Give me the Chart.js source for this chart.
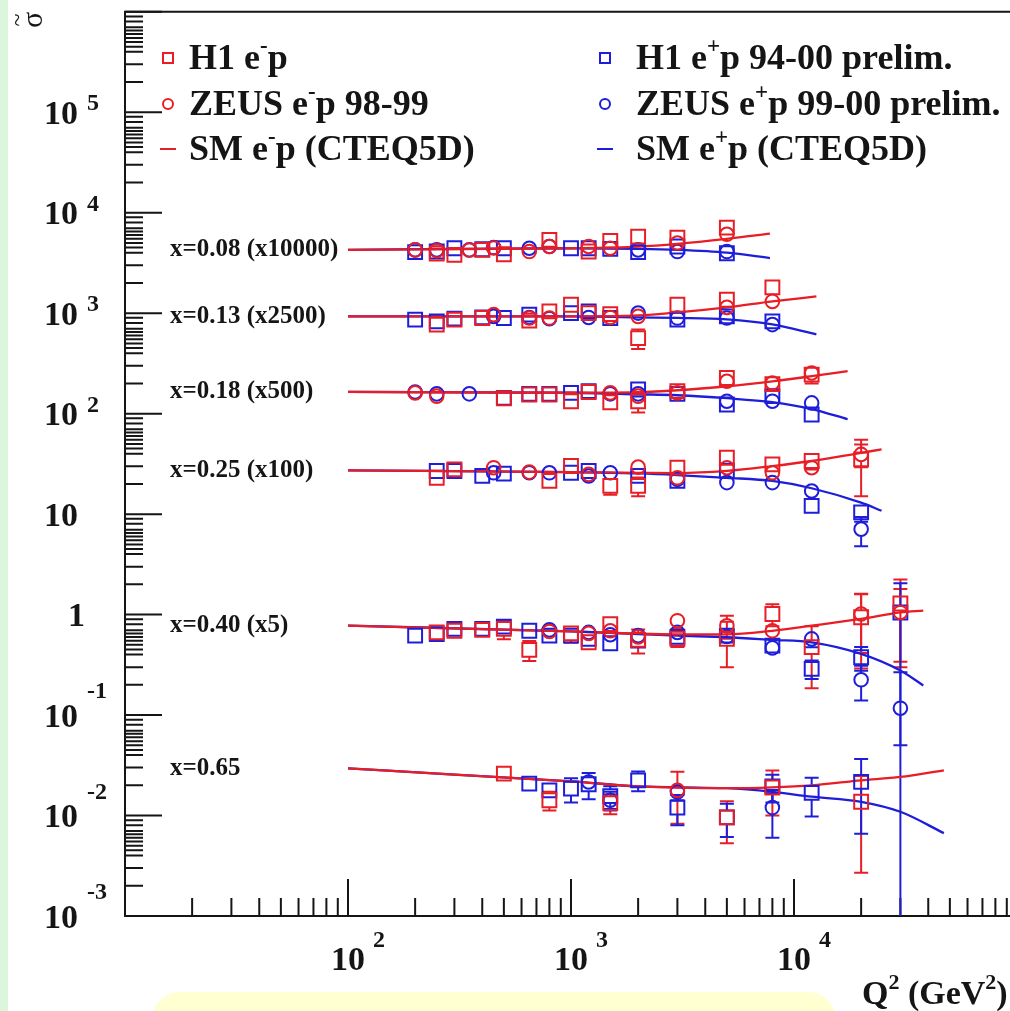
<!DOCTYPE html>
<html>
<head>
<meta charset="utf-8">
<script src="https://cdn.jsdelivr.net/npm/chart.js@4.4.1/dist/chart.umd.min.js"></script>
<style>
  html, body { margin: 0; padding: 0; background: #fff; overflow: hidden; }
  #wrap { position: relative; width: 1010px; height: 1011px; overflow: hidden; background: #fff; }
  #strip { position: absolute; left: 0; top: 0; width: 8px; height: 1011px; background: #dcf6de; }
  #note { position: absolute; left: 152px; top: 992px; width: 684px; height: 60px; border-radius: 28px; background: #ffffd2; }
  canvas { position: absolute; left: 0; top: 0; }
</style>
</head>
<body>
<div id="wrap">
  <div id="strip"></div>
  <div id="note"></div>
  <canvas id="chart" width="1040" height="1011"></canvas>
</div>
<script>
// x bins, the factor each bin is multiplied by, and the bin captions
const binScale = [10000, 2500, 500, 100, 5, 1];
const binLabels = ["x=0.08 (x10000)", "x=0.13 (x2500)", "x=0.18 (x500)", "x=0.25 (x100)", "x=0.40 (x5)", "x=0.65"];

// SM expectation (CTEQ5D), reduced cross section per bin
const smQ2 = [
  [100, 1000, 2000, 3000, 5000, 7800],
  [100, 1000, 2000, 3000, 5000, 8000, 12600],
  [100, 1000, 2000, 3000, 5000, 8000, 12000, 17400],
  [100, 1000, 2000, 3000, 5000, 8000, 12000, 20000, 24700],
  [100, 1000, 2000, 3000, 5000, 8000, 12000, 20000, 30000, 38000],
  [100, 300, 1000, 2000, 5000, 8000, 12000, 20000, 30000, 47000],
];
const smEm = [
  [0.427, 0.443, 0.46, 0.49, 0.55, 0.62],
  [0.372, 0.372, 0.38, 0.407, 0.457, 0.524, 0.587],
  [0.329, 0.323, 0.327, 0.342, 0.375, 0.42, 0.472, 0.529],
  [0.273, 0.262, 0.258, 0.256, 0.269, 0.301, 0.338, 0.408, 0.441],
  [0.155, 0.136, 0.129, 0.127, 0.127, 0.138, 0.155, 0.181, 0.21, 0.219],
  [0.0295, 0.0255, 0.0219, 0.0195, 0.0187, 0.0191, 0.02, 0.0224, 0.0242, 0.0282],
];
const smEp = [
  [0.427, 0.443, 0.437, 0.427, 0.4, 0.354],
  [0.372, 0.372, 0.363, 0.359, 0.347, 0.309, 0.246],
  [0.329, 0.323, 0.312, 0.305, 0.285, 0.26, 0.222, 0.176],
  [0.273, 0.262, 0.254, 0.245, 0.23, 0.214, 0.181, 0.13, 0.108],
  [0.155, 0.136, 0.128, 0.1235, 0.119, 0.112, 0.106, 0.0813, 0.0555, 0.0394],
  [0.0295, 0.0255, 0.0219, 0.0195, 0.0187, 0.0172, 0.0154, 0.0137, 0.0109, 0.00668],
];

// H1 e-p
const h1EmQ2 = [
  [250, 300, 400, 500, 800, 1200, 1500, 2000, 3000, 5000],
  [250, 300, 400, 650, 800, 1000, 1200, 1500, 2000, 3000, 5000, 8000],
  [500, 650, 800, 1000, 1200, 1500, 2000, 3000, 5000, 8000, 12000],
  [250, 300, 800, 1000, 1500, 2000, 3000, 5000, 8000, 12000, 20000],
  [250, 300, 400, 500, 650, 1000, 1200, 1500, 2000, 3000, 5000, 8000, 12000, 20000, 30000],
  [500, 800, 1500, 5000, 8000, 20000],
];
const h1EmSig = [
  [0.393, 0.381, 0.427, 0.386, 0.537, 0.411, 0.525, 0.579, 0.566, 0.711],
  [0.308, 0.345, 0.358, 0.337, 0.417, 0.486, 0.401, 0.392, 0.226, 0.486, 0.545, 0.722],
  [0.285, 0.31, 0.31, 0.266, 0.329, 0.26, 0.266, 0.335, 0.453, 0.393, 0.49],
  [0.23, 0.279, 0.214, 0.301, 0.191, 0.191, 0.29, 0.364, 0.313, 0.338, 0.351],
  [0.133, 0.138, 0.141, 0.144, 0.0891, 0.13, 0.106, 0.161, 0.112, 0.115, 0.115, 0.203, 0.095, 0.188, 0.258],
  [0.0261, 0.0142, 0.0133, 0.0096, 0.019, 0.0137],
];
const h1EmErr = [
  [0.02, 0.02, 0.02, 0.02, 0.03, 0.02, 0.03, 0.04, 0.04, 0.06],
  [0.015, 0.015, 0.015, 0.02, 0.02, 0.03, 0.02, 0.03, 0.05, 0.04, 0.05, 0.08],
  [0.015, 0.015, 0.02, 0.03, 0.02, 0.04, 0.06, 0.03, 0.04, 0.05, 0.09],
  [0.012, 0.015, 0.02, 0.02, 0.035, 0.04, 0.03, 0.04, 0.04, 0.06, 0.2],
  [0.01, 0.01, 0.01, 0.03, 0.02, 0.025, 0.015, 0.03, 0.03, 0.02, 0.055, 0.05, 0.058, 0.13, 0.19],
  [0.003, 0.003, 0.003, 0.0043, 0.009, 0.011],
];

// ZEUS e-p 98-99
const zeusEmQ2 = [
  [200, 250, 350, 450, 650, 800, 1200, 1500, 3000, 5000],
  [450, 650, 800, 1500, 2000, 5000, 8000],
  [200, 250, 1500, 2000, 3000, 5000, 8000, 12000],
  [450, 650, 1200, 2000, 3000, 5000, 8000, 12000, 20000],
  [800, 1200, 1500, 2000, 3000, 5000, 8000, 20000, 30000],
  [3000],
];
const zeusEmSig = [
  [0.427, 0.42, 0.425, 0.446, 0.411, 0.461, 0.461, 0.443, 0.5, 0.61],
  [0.387, 0.358, 0.358, 0.363, 0.372, 0.457, 0.524],
  [0.322, 0.299, 0.322, 0.299, 0.322, 0.42, 0.404, 0.508],
  [0.29, 0.262, 0.249, 0.294, 0.23, 0.29, 0.258, 0.29, 0.393],
  [0.136, 0.13, 0.138, 0.12, 0.174, 0.155, 0.138, 0.203, 0.21],
  [0.0178],
];
const zeusEmErr = [
  [0.02, 0.02, 0.02, 0.02, 0.02, 0.02, 0.03, 0.03, 0.03, 0.05],
  [0.015, 0.015, 0.015, 0.02, 0.02, 0.03, 0.04],
  [0.012, 0.012, 0.02, 0.02, 0.02, 0.03, 0.04, 0.06],
  [0.012, 0.012, 0.015, 0.02, 0.02, 0.03, 0.03, 0.04, 0.1],
  [0.01, 0.01, 0.01, 0.01, 0.03, 0.04, 0.02, 0.12, 0.15],
  [0.0095],
];

// H1 e+p 94-00 prelim.
const h1EpQ2 = [
  [200, 250, 300, 400, 500, 1000, 1200, 1500, 2000, 3000, 5000],
  [200, 250, 300, 400, 500, 650, 1000, 1200, 1500, 3000, 5000, 8000],
  [500, 650, 800, 1000, 1200, 2000, 3000, 5000, 8000, 12000],
  [250, 300, 400, 500, 1000, 1200, 2000, 3000, 5000, 12000, 20000],
  [200, 250, 300, 400, 500, 650, 800, 1000, 1200, 1500, 2000, 3000, 5000, 8000, 12000, 20000, 30000],
  [650, 800, 1000, 1200, 1500, 2000, 3000, 5000, 8000, 12000, 20000],
];
const h1EpSig = [
  [0.405, 0.411, 0.443, 0.433, 0.443, 0.443, 0.443, 0.437, 0.405, 0.461, 0.395],
  [0.345, 0.332, 0.353, 0.363, 0.358, 0.387, 0.401, 0.417, 0.358, 0.345, 0.372, 0.332],
  [0.287, 0.315, 0.315, 0.322, 0.335, 0.348, 0.315, 0.247, 0.299, 0.196],
  [0.269, 0.269, 0.24, 0.253, 0.258, 0.269, 0.24, 0.214, 0.27, 0.121, 0.104],
  [0.1235, 0.128, 0.144, 0.144, 0.152, 0.138, 0.1235, 0.1235, 0.1146, 0.1036, 0.11, 0.12, 0.1235, 0.0983, 0.0577, 0.0752, 0.21],
  [0.0208, 0.0178, 0.0185, 0.0205, 0.0156, 0.0224, 0.012, 0.0096, 0.0195, 0.0168, 0.0216],
];
const h1EpErr = [
  [0.015, 0.015, 0.015, 0.015, 0.015, 0.02, 0.02, 0.02, 0.02, 0.03, 0.04],
  [0.012, 0.012, 0.012, 0.012, 0.012, 0.015, 0.015, 0.015, 0.015, 0.02, 0.03, 0.04],
  [0.01, 0.01, 0.012, 0.012, 0.012, 0.015, 0.02, 0.02, 0.03, 0.03],
  [0.01, 0.01, 0.01, 0.01, 0.012, 0.012, 0.015, 0.015, 0.02, 0.02, 0.02],
  [0.005, 0.005, 0.005, 0.005, 0.006, 0.006, 0.006, 0.006, 0.007, 0.007, 0.008, 0.01, 0.012, 0.012, 0.012, 0.02, 0.2],
  [0.002, 0.002, 0.005, 0.006, 0.004, 0.005, 0.004, 0.0035, 0.006, 0.007, 0.015],
];

// ZEUS e+p 99-00 prelim.
const zeusEpQ2 = [
  [200, 250, 350, 450, 650, 800, 2000, 3000, 5000],
  [450, 650, 800, 1200, 2000, 3000, 5000, 8000],
  [200, 250, 350, 1500, 2000, 5000, 8000, 12000],
  [450, 650, 800, 1200, 1500, 3000, 5000, 8000, 12000, 20000],
  [800, 1200, 1500, 2000, 3000, 5000, 8000, 12000, 20000, 30000],
  [1200, 1500, 3000, 8000],
];
const zeusEpSig = [
  [0.427, 0.427, 0.427, 0.45, 0.443, 0.461, 0.427, 0.411, 0.411],
  [0.372, 0.363, 0.353, 0.363, 0.401, 0.358, 0.358, 0.308],
  [0.329, 0.315, 0.315, 0.315, 0.315, 0.266, 0.266, 0.256],
  [0.258, 0.258, 0.258, 0.24, 0.258, 0.222, 0.206, 0.206, 0.17, 0.0709],
  [0.141, 0.133, 0.126, 0.1235, 0.133, 0.121, 0.0932, 0.1146, 0.0449, 0.0234],
  [0.0216, 0.0142, 0.0172, 0.012],
];
const zeusEpErr = [
  [0.012, 0.012, 0.012, 0.012, 0.015, 0.015, 0.02, 0.02, 0.03],
  [0.01, 0.01, 0.01, 0.012, 0.015, 0.015, 0.02, 0.03],
  [0.01, 0.01, 0.01, 0.012, 0.012, 0.015, 0.02, 0.03],
  [0.008, 0.008, 0.008, 0.01, 0.01, 0.012, 0.015, 0.015, 0.02, 0.023],
  [0.006, 0.006, 0.006, 0.006, 0.008, 0.01, 0.012, 0.02, 0.017, 0.03],
  [0.003, 0.003, 0.003, 0.006],
];

const RED = "rgb(232, 30, 38)";
const BLUE = "rgb(30, 30, 218)";
const INK = "#151515";
const SERIF = '"Liberation Serif", "DejaVu Serif", serif';
const SQUARE_R = 9.8;
const CIRCLE_R = 6.8;

function points(q2, sig, err) {
  const out = [];
  q2.forEach((row, i) => {
    row.forEach((q, j) => {
      out.push({ x: q, y: sig[i][j] * binScale[i], e: err[i][j] * binScale[i] });
    });
  });
  return out;
}

function markerSet(label, data, color, style) {
  const square = style === "rect";
  return {
    label: label,
    data: data,
    pointStyle: style,
    pointRadius: square ? SQUARE_R : CIRCLE_R,
    pointBorderWidth: 2,
    borderColor: color,
    backgroundColor: "rgba(0,0,0,0)",
    showLine: false,
    markerHalf: square ? SQUARE_R * Math.SQRT1_2 : CIRCLE_R,
    errorBars: true,
  };
}

function curveSet(q2, sig, scale, color) {
  return {
    data: q2.map((q, i) => ({ x: q, y: sig[i] * scale })),
    showLine: true,
    borderColor: color,
    borderWidth: 2.3,
    pointRadius: 0,
    cubicInterpolationMode: "monotone",
    fill: false,
  };
}

const datasets = [
  markerSet("H1 e-p", points(h1EmQ2, h1EmSig, h1EmErr), RED, "rect"),
  markerSet("ZEUS e-p 98-99", points(zeusEmQ2, zeusEmSig, zeusEmErr), RED, "circle"),
  markerSet("H1 e+p 94-00 prelim.", points(h1EpQ2, h1EpSig, h1EpErr), BLUE, "rect"),
  markerSet("ZEUS e+p 99-00 prelim.", points(zeusEpQ2, zeusEpSig, zeusEpErr), BLUE, "circle"),
];
smQ2.forEach((q2, i) => {
  datasets.push(curveSet(q2, smEm[i], binScale[i], RED));
  datasets.push(curveSet(q2, smEp[i], binScale[i], BLUE));
});

// text with raised pieces, e.g. e^- p
function drawRich(ctx, x, y, parts, size) {
  parts.forEach(([text, sup]) => {
    const s = sup ? Math.round(size * 0.64) : size;
    ctx.font = `bold ${s}px ${SERIF}`;
    ctx.fillText(text, x, sup ? y - size * 0.45 : y);
    x += ctx.measureText(text).width;
  });
  return x;
}

function drawMarker(ctx, style, x, y, color, half) {
  ctx.strokeStyle = color;
  ctx.lineWidth = 2;
  ctx.beginPath();
  if (style === "rect") ctx.rect(x - half, y - half, half * 2, half * 2);
  else if (style === "circle") ctx.arc(x, y, half, 0, Math.PI * 2);
  else { ctx.moveTo(x - 8, y); ctx.lineTo(x + 8, y); }
  ctx.stroke();
}

const axesPlugin = {
  id: "rootAxes",
  beforeDatasetsDraw(chart) {
    const { ctx, chartArea: a, scales } = chart;
    const xs = scales.x, ys = scales.y;
    ctx.save();
    ctx.strokeStyle = INK;
    ctx.lineWidth = 2;
    ctx.beginPath();
    ctx.rect(a.left, a.top, a.right - a.left, a.bottom - a.top);
    ctx.stroke();

    // ticks point inwards, long ones on each decade
    const yMinor = [2, 3, 4, 4.5, 5, 5.5, 6, 6.5, 7, 8, 9];
    ctx.beginPath();
    for (let e = -3; e <= 6; e++) {
      const b = Math.pow(10, e);
      const py = ys.getPixelForValue(b);
      ctx.moveTo(a.left, py); ctx.lineTo(a.left + 37, py);
      if (e < 6) {
        yMinor.forEach(m => {
          const p = ys.getPixelForValue(b * m);
          ctx.moveTo(a.left, p); ctx.lineTo(a.left + 18, p);
        });
      }
    }
    for (let e = 1; e <= 5; e++) {
      const b = Math.pow(10, e);
      const px = xs.getPixelForValue(b);
      ctx.moveTo(px, a.bottom); ctx.lineTo(px, a.bottom - 37);
      if (e < 5) {
        for (let m = 2; m <= 9; m++) {
          const p = xs.getPixelForValue(b * m);
          ctx.moveTo(p, a.bottom); ctx.lineTo(p, a.bottom - 18);
        }
      }
    }
    ctx.stroke();

    // tick labels
    ctx.fillStyle = INK;
    ctx.textBaseline = "alphabetic";
    for (let e = -3; e <= 5; e++) {
      const py = ys.getPixelForValue(Math.pow(10, e));
      ctx.font = `bold 34px ${SERIF}`;
      if (e === 0) {
        ctx.textAlign = "right";
        ctx.fillText("1", a.left - 40, py + 11.5);
        continue;
      }
      ctx.textAlign = "right";
      ctx.fillText("10", a.left - 47, py + 11.5);
      if (e !== 1) {
        ctx.textAlign = "left";
        ctx.font = `bold 24px ${SERIF}`;
        ctx.fillText(String(e), a.left - 38, e < 0 ? py - 17 : py - 2);
      }
    }
    for (let e = 2; e <= 4; e++) {
      const px = xs.getPixelForValue(Math.pow(10, e));
      ctx.textAlign = "center";
      ctx.font = `bold 34px ${SERIF}`;
      ctx.fillText("10", px, a.bottom + 54);
      ctx.textAlign = "left";
      ctx.font = `bold 24px ${SERIF}`;
      ctx.fillText(String(e), px + 25, a.bottom + 31);
    }

    // axis titles
    ctx.textAlign = "left";
    drawRich(ctx, 862, 1004, [["Q"], ["2", 1], [" (GeV"], ["2", 1], [")"]], 34);
    ctx.save();
    ctx.translate(34, 20);
    ctx.rotate(-Math.PI / 2);
    ctx.textAlign = "center";
    ctx.textBaseline = "middle";
    ctx.font = `30px ${SERIF}`;
    ctx.fillText("\u03c3", 0, 0);
    ctx.font = `24px ${SERIF}`;
    ctx.fillText("~", 0, -15);
    ctx.restore();

    // bin captions at the level where each SM curve starts
    ctx.font = `bold 25px ${SERIF}`;
    ctx.textAlign = "left";
    ctx.textBaseline = "middle";
    binLabels.forEach((t, i) => {
      ctx.fillText(t, a.left + 45, ys.getPixelForValue(smEm[i][0] * binScale[i]));
    });

    // error bars, drawn from the marker edge outwards
    ctx.beginPath();
    ctx.rect(a.left, a.top, a.right - a.left, a.bottom - a.top);
    ctx.clip();
    chart.data.datasets.forEach(ds => {
      if (!ds.errorBars) return;
      ctx.strokeStyle = ds.borderColor;
      ctx.lineWidth = 2;
      ctx.beginPath();
      ds.data.forEach(p => {
        const px = xs.getPixelForValue(p.x);
        const py = ys.getPixelForValue(p.y);
        const top = ys.getPixelForValue(p.y + p.e);
        const low = p.y - p.e > 0 ? ys.getPixelForValue(p.y - p.e) : a.bottom + 5;
        const h = ds.markerHalf;
        if (top < py - h - 1) {
          ctx.moveTo(px, py - h); ctx.lineTo(px, top);
          ctx.moveTo(px - 7, top); ctx.lineTo(px + 7, top);
        }
        if (low > py + h + 1) {
          ctx.moveTo(px, py + h); ctx.lineTo(px, low);
          ctx.moveTo(px - 7, low); ctx.lineTo(px + 7, low);
        }
      });
      ctx.stroke();
    });
    ctx.restore();
  },
  afterDraw(chart) {
    const ctx = chart.ctx;
    ctx.save();
    ctx.fillStyle = INK;
    ctx.textAlign = "left";
    ctx.textBaseline = "alphabetic";
    const rows = [69, 115, 160];
    const left = [
      ["rect", RED, [["H1 e"], ["-", 1], ["p"]]],
      ["circle", RED, [["ZEUS e"], ["-", 1], ["p 98-99"]]],
      ["line", RED, [["SM e"], ["-", 1], ["p (CTEQ5D)"]]],
    ];
    const right = [
      ["rect", BLUE, [["H1 e"], ["+", 1], ["p 94-00 prelim."]]],
      ["circle", BLUE, [["ZEUS e"], ["+", 1], ["p 99-00 prelim."]]],
      ["line", BLUE, [["SM e"], ["+", 1], ["p (CTEQ5D)"]]],
    ];
    [[left, 168, 189], [right, 605, 636]].forEach(([items, mx, tx]) => {
      items.forEach(([style, color, parts], i) => {
        drawMarker(ctx, style, mx, rows[i] - 11, color, 5);
        ctx.fillStyle = INK;
        drawRich(ctx, tx, rows[i], parts, 36);
      });
    });
    ctx.restore();
  },
};

new Chart(document.getElementById("chart"), {
  type: "scatter",
  data: { datasets: datasets },
  options: {
    responsive: false,
    animation: false,
    devicePixelRatio: 1,
    layout: { padding: { left: 125, top: 10, right: 23, bottom: 95 } },
    scales: {
      x: { type: "logarithmic", min: 10, max: 100000, display: false },
      y: { type: "logarithmic", min: 0.001, max: 1000000, display: false },
    },
    plugins: {
      legend: { display: false },
      tooltip: { enabled: false },
    },
  },
  plugins: [axesPlugin],
});
</script>
</body>
</html>
